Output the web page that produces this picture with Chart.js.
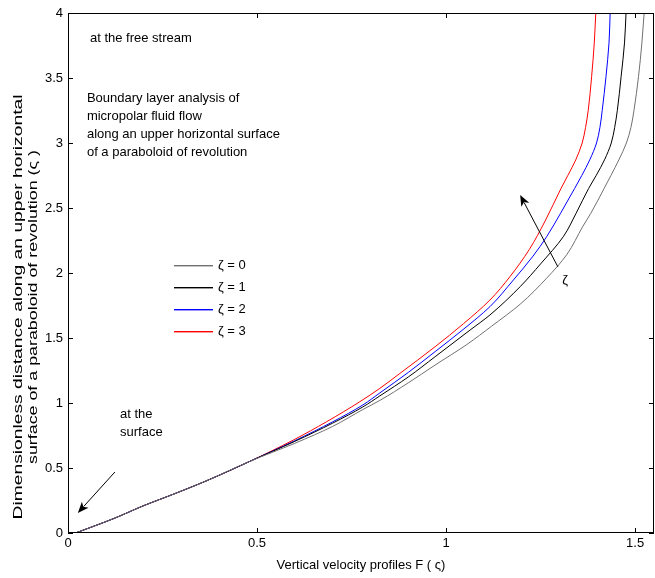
<!DOCTYPE html>
<html><head><meta charset="utf-8">
<script src="https://cdn.jsdelivr.net/npm/chart.js@4.4.0/dist/chart.umd.min.js"></script>
<style>html,body{margin:0;padding:0;background:#fff;}#wrap{width:655px;height:578px;}</style>
</head><body><div id="wrap"><canvas id="c" width="655" height="578"></canvas></div>
<script>
// ---------- data ----------
const xTickValues = [0, 0.5, 1, 1.5];
const xTickLabels = ['0', '0.5', '1', '1.5'];
const yTickValues = [0, 0.5, 1, 1.5, 2, 2.5, 3, 3.5, 4];
const yTickLabels = ['0', '0.5', '1', '1.5', '2', '2.5', '3', '3.5', '4'];
const seriesNames = ['\u03B6 = 0', '\u03B6 = 1', '\u03B6 = 2', '\u03B6 = 3'];

// shared lower part of all profiles
const commonF   = [0.02, 0.12, 0.20, 0.28, 0.365, 0.48];
const commonEta = [0.00, 0.11, 0.21, 0.30, 0.40, 0.55];

const zeta0F   = [0.60, 0.70, 0.78, 0.825, 0.90, 0.971, 1.055, 1.12, 1.196, 1.266, 1.319, 1.362, 1.383, 1.418, 1.436, 1.457, 1.477, 1.489, 1.497, 1.509, 1.518, 1.524];
const zeta0Eta = [0.69, 0.82, 0.95, 1.02, 1.155, 1.292, 1.45, 1.59, 1.76, 1.96, 2.14, 2.36, 2.46, 2.65, 2.75, 2.87, 3.0, 3.12, 3.25, 3.51, 3.77, 4.0];

const zeta1F   = [0.60, 0.70, 0.78, 0.825, 0.90, 0.971, 1.063, 1.116, 1.196, 1.25, 1.31, 1.344, 1.377, 1.397, 1.419, 1.437, 1.446, 1.453, 1.463, 1.472, 1.476];
const zeta1Eta = [0.705, 0.845, 0.97, 1.055, 1.20, 1.356, 1.56, 1.677, 1.895, 2.07, 2.279, 2.46, 2.65, 2.75, 2.87, 3.0, 3.12, 3.25, 3.51, 3.77, 4.0];

const zeta2F   = [0.60, 0.70, 0.78, 0.825, 0.90, 0.971, 1.045, 1.116, 1.178, 1.23, 1.266, 1.303, 1.340, 1.359, 1.380, 1.398, 1.407, 1.413, 1.423, 1.431, 1.434];
const zeta2Eta = [0.71, 0.855, 0.985, 1.078, 1.235, 1.395, 1.565, 1.741, 1.946, 2.13, 2.279, 2.46, 2.65, 2.75, 2.87, 3.0, 3.12, 3.25, 3.51, 3.77, 4.0];

const zeta3F   = [0.596, 0.684, 0.772, 0.825, 0.878, 0.971, 1.046, 1.116, 1.169, 1.22, 1.262, 1.304, 1.322, 1.343, 1.360, 1.369, 1.376, 1.385, 1.392, 1.396];
const zeta3Eta = [0.715, 0.856, 1.01, 1.113, 1.228, 1.433, 1.61, 1.792, 1.972, 2.18, 2.40, 2.65, 2.75, 2.87, 3.0, 3.12, 3.25, 3.51, 3.77, 4.0];

// ---------- styling / layout ----------
const FONT = 'Liberation Sans, Arial, Helvetica, sans-serif';
const seriesColors = ['#707070', '#000000', '#0000ff', '#ff0000'];
const xTitle = 'Vertical velocity profiles F ( \u03C2)';
const yTitleLines = ['Dimensionless distance along an upper horizontal', 'surface of a paraboloid of revolution (\u03C2 )'];

function pts(fA, eA) {
  const F = commonF.concat(fA), E = commonEta.concat(eA);
  return F.map((f, i) => ({x: f, y: E[i]}));
}
const seriesData = [pts(zeta0F, zeta0Eta), pts(zeta1F, zeta1Eta), pts(zeta2F, zeta2Eta), pts(zeta3F, zeta3Eta)];

const datasets = seriesNames.map((name, i) => ({
  label: name,
  data: seriesData[i],
  showLine: true,
  borderColor: seriesColors[i],
  backgroundColor: seriesColors[i],
  borderWidth: 1,
  pointRadius: 0,
  fill: false,
  cubicInterpolationMode: 'monotone'
}));

const deco = {
  id: 'deco',
  afterDraw(chart) {
    const ctx = chart.ctx, a = chart.chartArea;
    const xs = chart.scales.x, ys = chart.scales.y;
    ctx.save();
    // box
    ctx.strokeStyle = '#000'; ctx.lineWidth = 1;
    ctx.strokeRect(Math.round(a.left) + 0.5, Math.round(a.top) + 0.5, Math.round(a.right - a.left) - 1, Math.round(a.bottom - a.top) - 1);
    // inward ticks
    const TL = 5;
    ctx.beginPath();
    xTickValues.forEach(v => {
      const px = Math.round(xs.getPixelForValue(v)) + 0.5;
      ctx.moveTo(px, a.bottom); ctx.lineTo(px, a.bottom - TL);
      ctx.moveTo(px, a.top); ctx.lineTo(px, a.top + TL);
    });
    yTickValues.forEach(v => {
      const py = Math.round(ys.getPixelForValue(v)) + 0.5;
      ctx.moveTo(a.left, py); ctx.lineTo(a.left + TL, py);
      ctx.moveTo(a.right, py); ctx.lineTo(a.right - TL, py);
    });
    ctx.stroke();

    // y title (stretched rotated text)
    ctx.fillStyle = '#000';
    ctx.font = '13px ' + FONT;
    ctx.textAlign = 'center'; ctx.textBaseline = 'middle';
    const titleLen = [425, 314];
    const titleCx = [18, 33];
    const cy = (a.top + a.bottom) / 2 + 34;
    yTitleLines.forEach((t, i) => {
      const stretch = titleLen[i] / ctx.measureText(t).width;
      ctx.save();
      ctx.translate(titleCx[i], cy);
      ctx.rotate(-Math.PI / 2);
      ctx.scale(stretch, 1);
      ctx.fillText(t, 0, 0);
      ctx.restore();
    });

    // text annotations
    ctx.textAlign = 'left';
    const X = v => xs.getPixelForValue(v), Y = v => ys.getPixelForValue(v);
    ctx.fillText('at the free stream', X(0.058), Y(3.808));
    const block = ['Boundary layer analysis of', 'micropolar fluid flow', 'along an upper horizontal surface', 'of a paraboloid of revolution'];
    block.forEach((t, i) => ctx.fillText(t, X(0.050), Y(3.346) + i * 18));
    ctx.fillText('at the', X(0.1376), Y(0.915));
    ctx.fillText('surface', X(0.1376), Y(0.915) + 18);
    ctx.textAlign = 'center';
    ctx.fillText('\u03B6', X(1.315), Y(1.946));

    // arrows
    function arrow(x1, y1, x2, y2) {
      const p1 = {x: X(x1), y: Y(y1)}, p2 = {x: X(x2), y: Y(y2)};
      const ang = Math.atan2(p2.y - p1.y, p2.x - p1.x);
      const L = 11, H = 4.5;
      ctx.beginPath(); ctx.moveTo(p1.x, p1.y);
      ctx.lineTo(p2.x - Math.cos(ang) * L * 0.8, p2.y - Math.sin(ang) * L * 0.8);
      ctx.strokeStyle = '#000'; ctx.lineWidth = 1; ctx.stroke();
      ctx.beginPath();
      ctx.moveTo(p2.x, p2.y);
      ctx.lineTo(p2.x - Math.cos(ang) * L - Math.sin(ang) * H, p2.y - Math.sin(ang) * L + Math.cos(ang) * H);
      ctx.lineTo(p2.x - Math.cos(ang) * L * 0.75, p2.y - Math.sin(ang) * L * 0.75);
      ctx.lineTo(p2.x - Math.cos(ang) * L + Math.sin(ang) * H, p2.y - Math.sin(ang) * L - Math.cos(ang) * H);
      ctx.closePath(); ctx.fillStyle = '#000'; ctx.fill();
    }
    arrow(0.124, 0.469, 0.026, 0.154);
    arrow(1.296, 2.046, 1.196, 2.60);

    // legend
    const lx = Math.round(X(0.28)), ly = Y(2.06);
    ctx.textAlign = 'left'; ctx.textBaseline = 'middle';
    seriesNames.forEach((n, i) => {
      const yy = Math.round(ly + i * 22);
      ctx.fillStyle = seriesColors[i];
      ctx.fillRect(lx, yy, 39, 1.4);
      ctx.fillStyle = '#000';
      ctx.fillText(n, lx + 44, yy + 0.5);
    });
    ctx.restore();
  }
};

new Chart(document.getElementById('c'), {
  type: 'scatter',
  data: {datasets},
  options: {
    indexAxis: 'y',
    responsive: false, animation: false, devicePixelRatio: 1,
    layout: {padding: {left: 0, right: 1, top: 13, bottom: 0}},
    plugins: {legend: {display: false}, tooltip: {enabled: false}},
    scales: {
      x: {
        type: 'linear', min: 0, max: 1.55,
        afterBuildTicks: s => { s.ticks = xTickValues.map(v => ({value: v})); },
        afterFit: s => { s.height = 45; },
        grid: {display: false, drawTicks: false}, border: {display: false},
        ticks: {callback: v => xTickLabels[xTickValues.indexOf(v)], color: '#000', font: {family: FONT, size: 13}, padding: 3, maxRotation: 0, autoSkip: false},
        title: {display: true, text: xTitle, color: '#000', font: {family: FONT, size: 13}, padding: {top: 0, bottom: 5}}
      },
      y: {
        type: 'linear', min: 0, max: 4,
        afterBuildTicks: s => { s.ticks = yTickValues.map(v => ({value: v})); },
        afterFit: s => { s.width = 68; },
        grid: {display: false, drawTicks: false}, border: {display: false},
        ticks: {callback: v => yTickLabels[yTickValues.indexOf(v)], color: '#000', font: {family: FONT, size: 13}, padding: 5, autoSkip: false}
      }
    }
  },
  plugins: [deco]
});
</script>
</body></html>
